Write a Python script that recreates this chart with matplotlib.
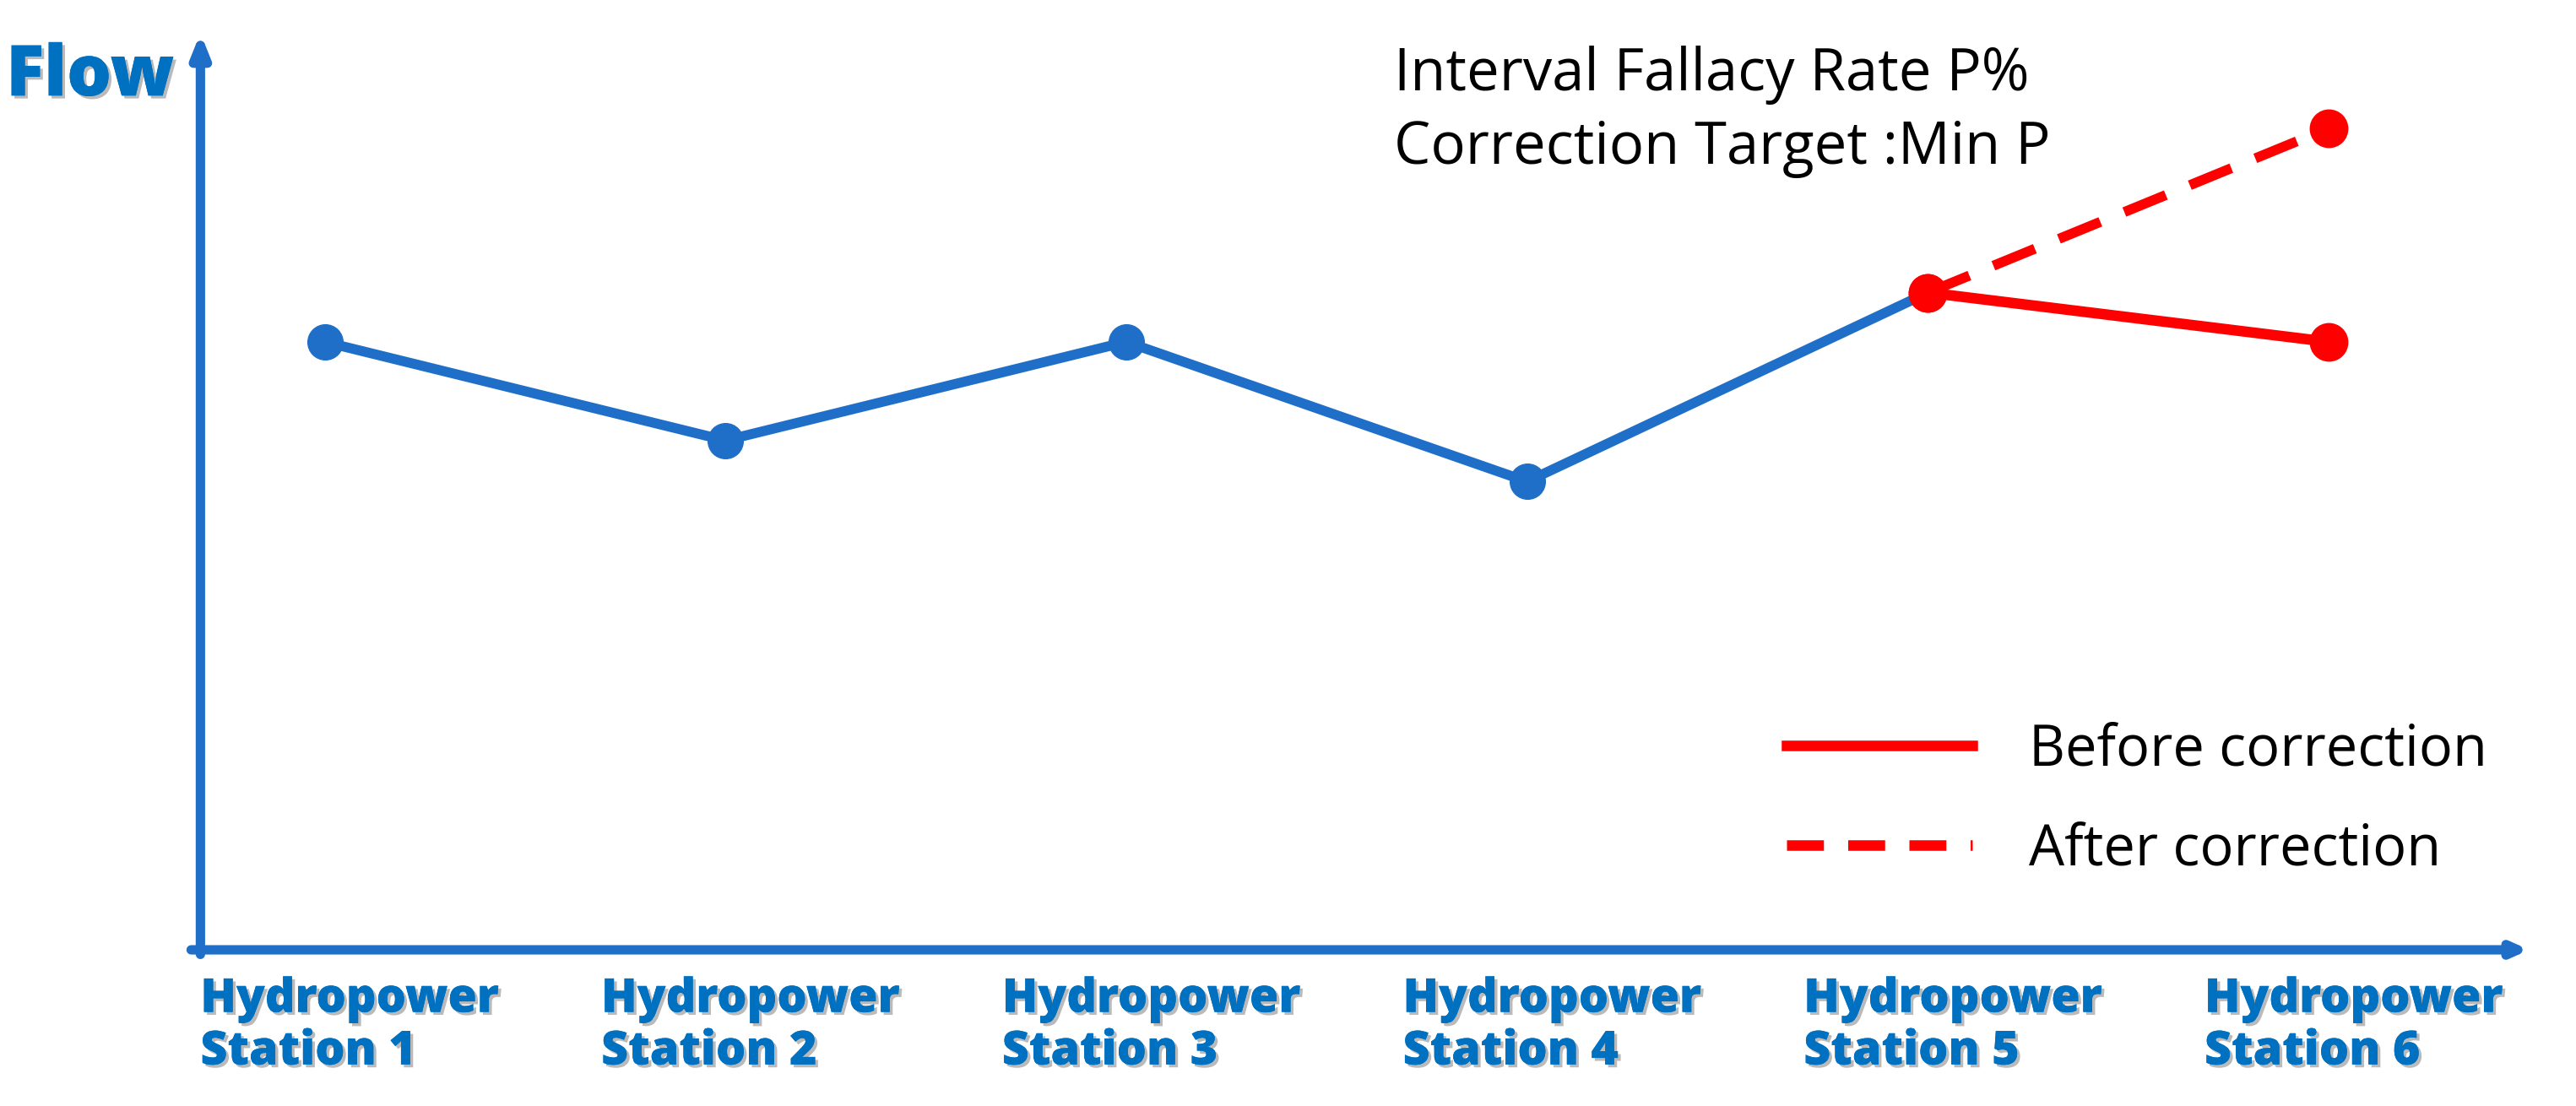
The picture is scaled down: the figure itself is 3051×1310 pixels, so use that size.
import matplotlib
matplotlib.use("Agg")
import matplotlib.pyplot as plt
import matplotlib.patheffects as pe
from matplotlib.lines import Line2D

stations = ["Hydropower\nStation 1", "Hydropower\nStation 2", "Hydropower\nStation 3",
            "Hydropower\nStation 4", "Hydropower\nStation 5", "Hydropower\nStation 6"]
flow_base = [74, 62, 74, 57, 80]          # stations 1-5
flow_before = [80, 74]                    # station 5 -> 6, before correction
flow_after = [80, 100]                    # station 5 -> 6, after correction
y_label = "Flow"
note_lines = ["Interval Fallacy Rate P%", "Correction Target :Min P"]
legend_labels = ["Before correction", "After correction"]

BLUE = "#1f6fc8"
TXT_BLUE = "#0070c0"
RED = "#ff0000"
FONT = ["Open Sans", "DejaVu Sans"]

fig = plt.figure(figsize=(30.51, 13.10), dpi=100)
ax = fig.add_axes([0.0778, 0.1412, 0.904, 0.829])
ax.set_xlim(0.712, 6.50)
ax.set_ylim(0, 111.6)
for s in ax.spines.values():
    s.set_visible(False)
ax.set_yticks([])

x = list(range(1, len(stations) + 1))
ax.plot(x[:5], flow_base, color=BLUE, lw=8.5, marker="o", ms=30, zorder=3)
ax.plot(x[4:6], flow_before, color=RED, lw=9, marker="o", ms=32, zorder=4)
ax.plot(x[4:6], flow_after, color=RED, lw=8.5, ls=(0, (4.5, 2.6)), marker="o", ms=32, zorder=4)

# axes arrows
ax.annotate("", xy=(0, 1.0), xytext=(0, -0.005), xycoords="axes fraction",
            arrowprops=dict(arrowstyle="-|>,head_length=1.5,head_width=0.6", color=BLUE, lw=8,
                            shrinkA=0, shrinkB=0), annotation_clip=False)
ax.annotate("", xy=(1.0, 0), xytext=(-0.004, 0), xycoords="axes fraction",
            arrowprops=dict(arrowstyle="-|>,head_length=1.0,head_width=0.45", color=BLUE, lw=8,
                            shrinkA=0, shrinkB=0), annotation_clip=False)

shadow = [pe.withSimplePatchShadow(offset=(2.5, -2.5), shadow_rgbFace="#777777", alpha=0.5), pe.Normal()]

ax.set_xticks([xi - 0.31 for xi in x])
ax.set_xticklabels(stations, fontsize=40, fontweight=800, color=TXT_BLUE,
                   family=FONT, ha="left", multialignment="left", linespacing=1.12)
ax.tick_params(axis="x", length=0, pad=22)
for t in ax.get_xticklabels():
    t.set_path_effects(shadow)

fig.text(0.035, 0.93, y_label, fontsize=60, fontweight=800, color=TXT_BLUE, family=FONT,
         ha="center", va="center", path_effects=shadow)

fig.text(0.541, 0.932, note_lines[0], fontsize=49.5, color="black", family=FONT,
         ha="left", va="center")
fig.text(0.541, 0.866, note_lines[1], fontsize=49.5, color="black", family=FONT,
         ha="left", va="center")

handles = [Line2D([], [], color=RED, lw=9),
           Line2D([], [], color=RED, lw=9, ls=(0, (3.5, 2.3)))]
ax.legend(handles, legend_labels, loc="upper left", bbox_to_anchor=(0.674, 0.393),
          bbox_transform=fig.transFigure, frameon=False, prop=dict(family=FONT, size=48),
          handlelength=3.3, handletextpad=1.0, labelspacing=0.75)

fig.savefig("out.png", dpi=100)
